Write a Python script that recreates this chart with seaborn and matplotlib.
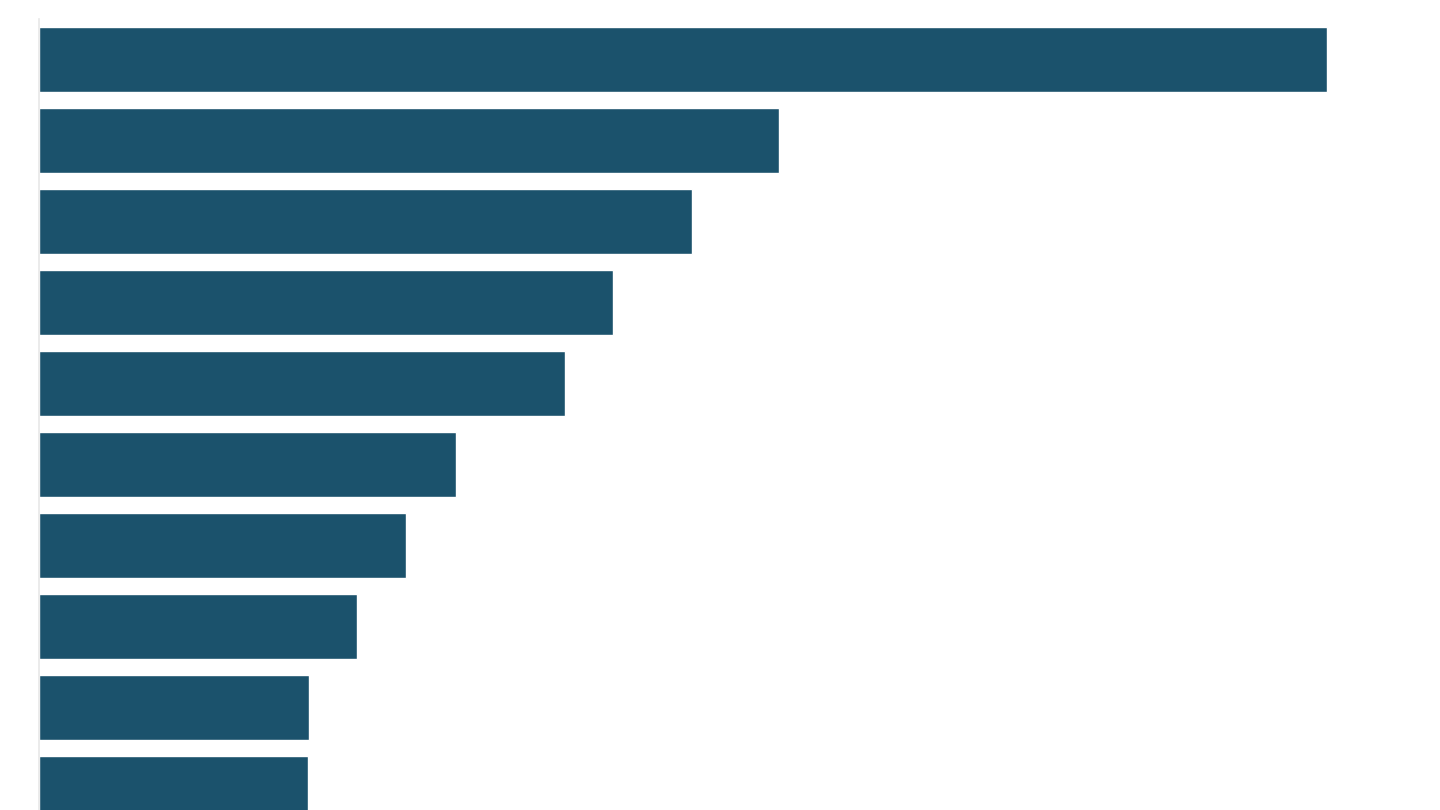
import matplotlib
matplotlib.use("Agg")
import matplotlib.pyplot as plt
import seaborn as sns
import pandas as pd

categories = ["A", "B", "C", "D", "E", "F", "G", "H", "I", "J"]
values = [100.0, 57.5, 50.7, 44.6, 40.9, 32.4, 28.5, 24.7, 21.0, 20.9]

df = pd.DataFrame({"category": categories, "value": values})

sns.set_theme(style="white")
fig = plt.figure(figsize=(14.4, 8.1), dpi=100)
W, H = 1440, 810
left_px, top_px, right_px, bottom_px = 38.5, 19, 1440, 810
ax = fig.add_axes([left_px / W, 1 - bottom_px / H, (right_px - left_px) / W, (bottom_px - top_px) / H])

sns.barplot(data=df, x="value", y="category", orient="h", color="#1b526c",
            saturation=1, width=0.81, ax=ax)

ax.set_xlim(0, (right_px - left_px) / 12.88)
ax.set_ylim((810 - 59.5) / 81, (19 - 59.5) / 81)
for s in ["top", "right", "bottom"]:
    ax.spines[s].set_visible(False)
ax.spines["left"].set_color("#e8e8e8")
ax.spines["left"].set_linewidth(1.2)
ax.set_xticks([])
ax.set_yticks([])
ax.set_xlabel("")
ax.set_ylabel("")

fig.savefig("out.png", dpi=100)
